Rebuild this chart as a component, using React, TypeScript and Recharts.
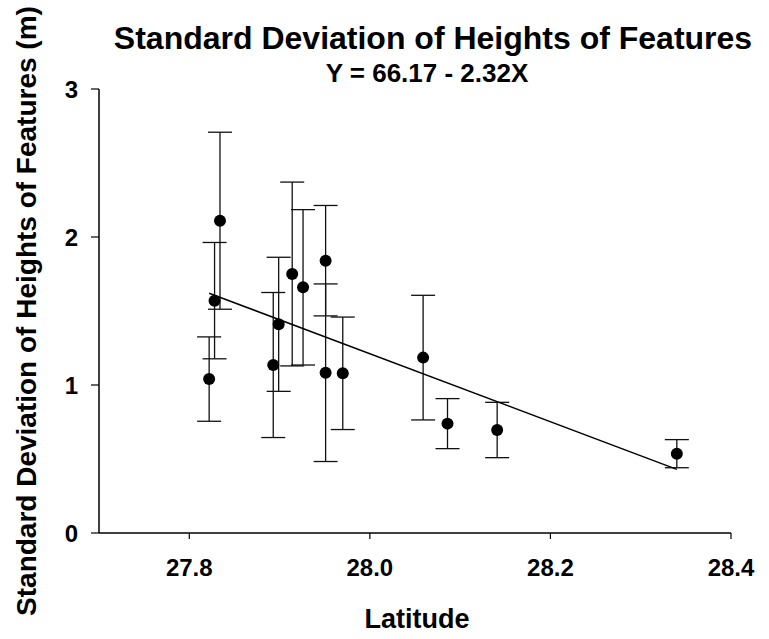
import React from "react";
import {
  ScatterChart,
  Scatter,
  XAxis,
  YAxis,
  ErrorBar,
} from "recharts";

// latitude of each site, mean SD of heights and the +/- error on it
const latitudes = [
  27.822, 27.828, 27.834, 27.893, 27.899, 27.914, 27.926, 27.951, 27.951,
  27.97, 28.059, 28.086, 28.141, 28.34,
];
const sdHeights = [
  1.04, 1.57, 2.11, 1.135, 1.41, 1.75, 1.66, 1.84, 1.083, 1.079, 1.185, 0.739,
  0.696, 0.536,
];
const sdErrors = [
  0.285, 0.393, 0.598, 0.49, 0.453, 0.621, 0.525, 0.373, 0.6, 0.38, 0.421,
  0.169, 0.187, 0.095,
];

// ends of the fitted line Y = 66.17 - 2.32X
const fitLat = [27.822, 28.34];
const fitSd = [1.62, 0.43];

const xTicks = [27.8, 28.0, 28.2, 28.4];
const yTicks = [0, 1, 2, 3];

const points = latitudes.map((x, i) => ({ x, y: sdHeights[i], err: sdErrors[i] }));
const fitLine = fitLat.map((x, i) => ({ x, y: fitSd[i] }));

const FONT = "'Liberation Sans', Arial, Helvetica, sans-serif";

const tickStyle = {
  fontSize: 24,
  fontWeight: "bold" as const,
  fill: "#000",
  fontFamily: FONT,
};

const Dot = (props: any) => {
  const { cx, cy } = props;
  if (cx == null || cy == null) return <g />;
  return <circle cx={cx} cy={cy} r={6} fill="#000" />;
};

const NoDot = () => <g />;

export default function App() {
  return (
    <div
      style={{
        position: "absolute",
        left: 0,
        top: 0,
        width: 769,
        height: 639,
        overflow: "hidden",
        background: "#fff",
        fontFamily: FONT,
      }}
    >
      <ScatterChart
        width={769}
        height={639}
        margin={{ top: 89, right: 38, left: 0, bottom: 0 }}
      >
        <XAxis
          type="number"
          dataKey="x"
          domain={[27.7, 28.4]}
          ticks={xTicks}
          tickFormatter={(v: number) => v.toFixed(1)}
          allowDataOverflow
          height={106}
          tickSize={6}
          tickMargin={20}
          tick={tickStyle}
          axisLine={{ stroke: "#000", strokeWidth: 1.5 }}
          tickLine={{ stroke: "#000", strokeWidth: 1.2 }}
        />
        <YAxis
          type="number"
          dataKey="y"
          domain={[0, 3]}
          ticks={yTicks}
          allowDataOverflow
          width={99}
          tickSize={8}
          tickMargin={13}
          tick={tickStyle}
          axisLine={{ stroke: "#000", strokeWidth: 1.5 }}
          tickLine={{ stroke: "#000", strokeWidth: 1.2 }}
        />
        <Scatter
          data={fitLine}
          line={{ stroke: "#000", strokeWidth: 1.5 }}
          shape={NoDot}
          isAnimationActive={false}
        />
        <Scatter data={points} shape={Dot} isAnimationActive={false}>
          <ErrorBar
            dataKey="err"
            direction="y"
            width={12}
            stroke="#111"
            strokeWidth={1.3}
            isAnimationActive={false}
          />
        </Scatter>
      </ScatterChart>

      <div
        style={{
          position: "absolute",
          left: 83,
          width: 700,
          top: 22,
          textAlign: "center",
          fontSize: 32,
          lineHeight: "32px",
          fontWeight: "bold",
          whiteSpace: "nowrap",
        }}
      >
        Standard Deviation of Heights of Features
      </div>
      <div
        style={{
          position: "absolute",
          left: 177,
          width: 500,
          top: 60,
          textAlign: "center",
          fontSize: 26,
          lineHeight: "26px",
          fontWeight: "bold",
          whiteSpace: "nowrap",
        }}
      >
        Y = 66.17 - 2.32X
      </div>
      <div
        style={{
          position: "absolute",
          left: 217,
          width: 400,
          top: 606,
          textAlign: "center",
          fontSize: 27,
          lineHeight: "27px",
          fontWeight: "bold",
          whiteSpace: "nowrap",
        }}
      >
        Latitude
      </div>
      <div
        style={{
          position: "absolute",
          left: 27 - 330,
          width: 660,
          top: 311 - 16,
          textAlign: "center",
          fontSize: 28,
          lineHeight: "32px",
          fontWeight: "bold",
          whiteSpace: "nowrap",
          transform: "rotate(-90deg)",
          transformOrigin: "center center",
        }}
      >
        Standard Deviation of Heights of Features (m)
      </div>
    </div>
  );
}
